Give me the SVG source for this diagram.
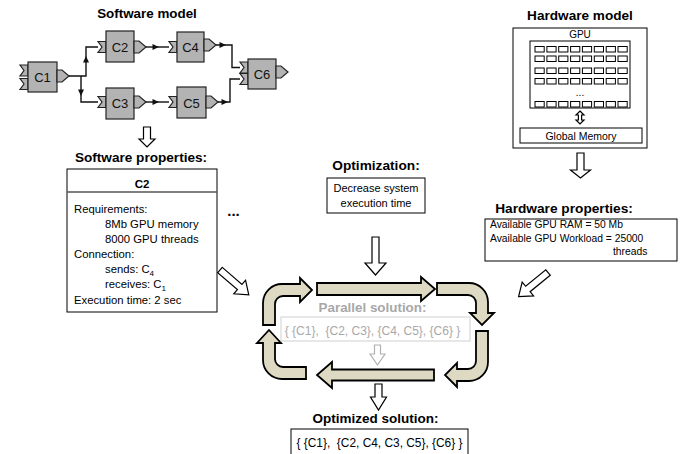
<svg xmlns="http://www.w3.org/2000/svg" xmlns:xlink="http://www.w3.org/1999/xlink" width="689" height="454" viewBox="0 0 689 454">
<style>
.t{font-family:"Liberation Sans",Arial,sans-serif;fill:#000}
.b{font-weight:bold}
.comp{fill:#b3b3b3;stroke:#222;stroke-width:1.2}
.cl{font-family:"Liberation Sans",Arial,sans-serif;font-size:13px;fill:#111}
.wire{fill:none;stroke:#111;stroke-width:1.4}
.hol{fill:#fff;stroke:#000;stroke-width:1.2;stroke-linejoin:miter}
.cyc{fill:#ddd9c3;stroke:#000;stroke-width:1.8;stroke-linejoin:miter}
.box{fill:#fff;stroke:#000;stroke-width:1}
.cell{fill:#fff;stroke:#000;stroke-width:1}
.grey{fill:#a8a8a8}
</style>
<defs>
<path id="in" class="comp" d="M0,0 H8 V11 H0 L4,5.5 Z"/>
<path id="out" class="comp" d="M0,-6 H5 L12,0 L5,6 H0 Z"/>
<path id="ah" d="M3,0 L-3.5,-3 L-3.5,3 Z" fill="#111"/>
</defs>

<text class="t b" x="147" y="18" font-size="13.4" text-anchor="middle">Software model</text>

<g id="C1">
<use xlink:href="#in" x="20" y="65"/>
<use xlink:href="#in" x="20" y="78.5"/>
<rect class="comp" x="28" y="62" width="29" height="30"/>
<use xlink:href="#out" x="57" y="76"/>
<text class="cl" x="42.5" y="82" text-anchor="middle">C1</text>
</g>
<g id="C2">
<use xlink:href="#in" x="98" y="41.5"/>
<rect class="comp" x="106" y="31" width="28" height="31"/>
<use xlink:href="#out" x="134" y="47"/>
<text class="cl" x="120" y="51.5" text-anchor="middle">C2</text>
</g>
<g id="C3">
<use xlink:href="#in" x="98" y="96.5"/>
<rect class="comp" x="106" y="88" width="28" height="31"/>
<use xlink:href="#out" x="134" y="102"/>
<text class="cl" x="120" y="108" text-anchor="middle">C3</text>
</g>
<g id="C4">
<use xlink:href="#in" x="169" y="41.5"/>
<rect class="comp" x="177" y="32" width="27" height="30"/>
<use xlink:href="#out" x="204" y="45"/>
<text class="cl" x="190.5" y="51.5" text-anchor="middle">C4</text>
</g>
<g id="C5">
<use xlink:href="#in" x="169" y="96.5"/>
<rect class="comp" x="177" y="87" width="29" height="31"/>
<use xlink:href="#out" x="206" y="102"/>
<text class="cl" x="191.5" y="107.5" text-anchor="middle">C5</text>
</g>
<g id="C6">
<use xlink:href="#in" x="240" y="62"/>
<use xlink:href="#in" x="240" y="73.5"/>
<rect class="comp" x="248" y="59" width="28" height="30"/>
<use xlink:href="#out" x="276" y="72"/>
<text class="cl" x="262" y="78.5" text-anchor="middle">C6</text>
</g>

<g id="connectors">
<path class="wire" d="M69,76 H86 V47 H98"/>
<path class="wire" d="M81,76 V102 H98"/>
<path class="wire" d="M146,47 H169"/>
<path class="wire" d="M146,102 H169"/>
<path class="wire" d="M216,45 H232 V67.5 H240"/>
<path class="wire" d="M218,102 H230 V79 H240"/>
<use xlink:href="#ah" transform="translate(86,59) rotate(-90)"/>
<use xlink:href="#ah" transform="translate(81,93) rotate(90)"/>
<use xlink:href="#ah" transform="translate(156,47)"/>
<use xlink:href="#ah" transform="translate(156,102)"/>
<use xlink:href="#ah" transform="translate(223,45)"/>
<use xlink:href="#ah" transform="translate(225,102)"/>

<path class="hol" d="M143.5,127 H150.5 V139 H155 L147,147 L139,139 H143.5 Z"/>
<path class="hol" d="M577,153 H584 V170 H590.5 L580.5,178 L570.5,170 H577 Z"/>
<path class="hol" d="M372,237 H379 V263 H386 L375.5,275 L365,263 H372 Z"/>
<path class="hol" d="M375,384 H382 V397 H386.5 L378.5,410 L370.5,397 H375 Z"/>
<polygon class="hol" points="0,-3.5 26,-3.5 26,-9 38,0 26,9 26,3.5 0,3.5" transform="translate(220,270) rotate(40.8)"/>
<polygon class="hol" points="0,-3.5 26,-3.5 26,-9 38,0 26,9 26,3.5 0,3.5" transform="translate(548,272.5) rotate(140.7)"/>
</g>

<g id="hardware-model">
<text class="t b" x="580" y="19.5" font-size="13.6" text-anchor="middle">Hardware model</text>
<rect class="box" x="513" y="28" width="134" height="120"/>
<text class="t" x="580" y="37.5" font-size="10" text-anchor="middle">GPU</text>
<rect class="box" x="530" y="41" width="100" height="67"/>
<g id="cores">
<g id="row1">
<rect class="cell" x="535" y="46.5" width="9.2" height="5.5"/>
<rect class="cell" x="546.9" y="46.5" width="9.2" height="5.5"/>
<rect class="cell" x="558.7" y="46.5" width="9.2" height="5.5"/>
<rect class="cell" x="570.6" y="46.5" width="9.2" height="5.5"/>
<rect class="cell" x="582.4" y="46.5" width="9.2" height="5.5"/>
<rect class="cell" x="594.3" y="46.5" width="9.2" height="5.5"/>
<rect class="cell" x="606.2" y="46.5" width="9.2" height="5.5"/>
<rect class="cell" x="618" y="46.5" width="9.2" height="5.5"/>
</g>
<use xlink:href="#row1" y="9.5"/>
<use xlink:href="#row1" y="21.5"/>
<use xlink:href="#row1" y="32"/>
<use xlink:href="#row1" y="55"/>
</g>
<text class="t" x="580" y="96" font-size="10" text-anchor="middle">...</text>
<path class="hol" stroke-width="1" d="M580,111 L584,115 H581.6 V120 H584 L580,124 L576,120 H578.4 V115 H576 Z"/>
<rect class="box" x="520" y="128" width="122" height="15"/>
<text class="t" x="581" y="139.5" font-size="10.5" text-anchor="middle">Global Memory</text>
</g>

<g id="software-properties">
<text class="t b" x="141" y="162" font-size="13.6" text-anchor="middle">Software properties:</text>
<rect class="box" x="67" y="169" width="150" height="143"/>
<line x1="67" y1="192" x2="217" y2="192" stroke="#555" stroke-width="1.5"/>
<text class="t b" x="142" y="188" font-size="11.5" text-anchor="middle">C2</text>
<g class="t" font-size="11.3">
<text x="74" y="213">Requirements:</text>
<text x="105" y="228">8Mb GPU memory</text>
<text x="105" y="243">8000 GPU threads</text>
<text x="74" y="258">Connection:</text>
<text x="105" y="273">sends: C<tspan font-size="8" dy="2.5">4</tspan></text>
<text x="105" y="288">receives: C<tspan font-size="8" dy="2.5">1</tspan></text>
<text x="74" y="304">Execution time: 2 sec</text>
</g>
</g>
<text class="t b" x="233.5" y="216" font-size="15" text-anchor="middle">...</text>

<g id="optimization">
<text class="t b" x="376" y="170" font-size="13.7" text-anchor="middle">Optimization:</text>
<rect class="box" x="327" y="178" width="98" height="35"/>
<text class="t" x="376" y="192" font-size="11" text-anchor="middle">Decrease system</text>
<text class="t" x="376" y="207" font-size="11" text-anchor="middle">execution time</text>
</g>

<g id="hardware-properties">
<text class="t b" x="564" y="213" font-size="13.7" text-anchor="middle">Hardware properties:</text>
<rect class="box" x="485" y="219" width="192" height="42"/>
<text class="t" x="490" y="227.5" font-size="10.3">Available GPU RAM = 50 Mb</text>
<text class="t" x="490" y="241.5" font-size="10.3">Available GPU Workload = 25000</text>
<text class="t" x="613" y="255" font-size="10.3">threads</text>
</g>

<g id="cycle">
<path class="cyc" d="M263,325 V303 A19,19 0 0 1 282,284 H300 V278 L312,290 L300,302 V296 H283 A8,8 0 0 0 275,304 V325 Z"/>
<path class="cyc" d="M317,283 H421 V277 L435,289 L421,301 V295 H317 Z"/>
<path class="cyc" d="M437,283 H469 A19,19 0 0 1 488,302 V313 H494 L482,325 L470,313 H476 V303 A8,8 0 0 0 468,295 H437 Z"/>
<path class="cyc" d="M476,331 H488 V362 A19,19 0 0 1 469,381 H457 V387 L445,375 L457,363 V369 H468 A8,8 0 0 0 476,361 Z"/>
<path class="cyc" d="M434,369.5 V380.5 H332 V388 L317,375 L332,362 V369.5 Z"/>
<path class="cyc" d="M306,367 V379 H282 A19,19 0 0 1 263,360 V343 H257 L269,330 L281,343 H275 V359 A8,8 0 0 0 283,367 Z"/>
</g>

<g id="parallel-solution">
<text class="t b grey" x="372.5" y="312" font-size="13.4" text-anchor="middle">Parallel solution:</text>
<rect x="281" y="317" width="189" height="24" fill="#fff" stroke="#cfcfcf" stroke-width="1"/>
<text class="t grey" x="372.5" y="335" font-size="12" text-anchor="middle" xml:space="preserve">{ {C1},  {C2, C3}, {C4, C5}, {C6} }</text>
<path d="M374.5,345 H380.5 V354 H385 L377.5,365 L370,354 H374.5 Z" fill="#fff" stroke="#b0b0b0" stroke-width="1.2"/>
</g>

<g id="optimized-solution">
<text class="t b" x="375.5" y="423" font-size="13.5" text-anchor="middle">Optimized solution:</text>
<rect class="box" x="291" y="429" width="177" height="32"/>
<text class="t" x="379.5" y="447" font-size="11.9" text-anchor="middle" xml:space="preserve">{ {C1},  {C2, C4, C3, C5}, {C6} }</text>
</g>
</svg>
